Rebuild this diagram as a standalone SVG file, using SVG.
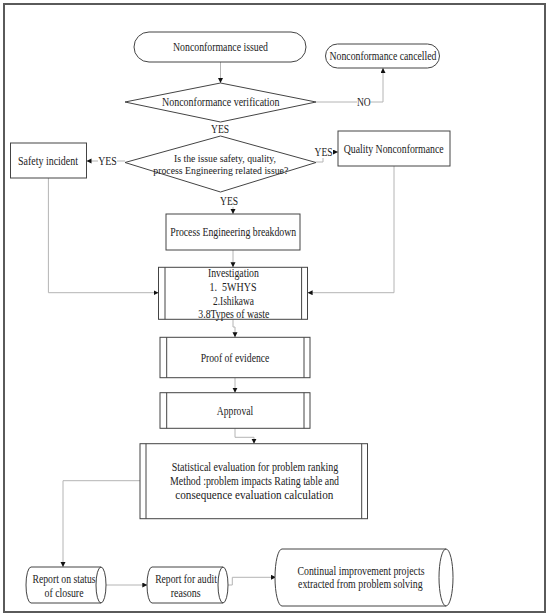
<svg xmlns="http://www.w3.org/2000/svg" width="550" height="616" viewBox="0 0 550 616">
<defs>
<marker id="ah" markerUnits="userSpaceOnUse" markerWidth="6" markerHeight="6" refX="5" refY="2.5" orient="auto">
<path d="M0,0 L5,2.5 L0,5 z" fill="#111"/>
</marker>
<style>
.n{fill:#fff;stroke:#444;stroke-width:1}
.i{fill:none;stroke:#444;stroke-width:1}
.c{fill:none;stroke:#b4b4b4;stroke-width:1}
.a{marker-end:url(#ah)}
text{font-family:"Liberation Serif","Times New Roman",serif;font-size:12px;fill:#222;text-anchor:middle}
.s{font-size:11px}
</style>
</defs>
<rect x="0" y="0" width="550" height="616" fill="#fff"/>
<rect x="4" y="4" width="541" height="608" fill="none" stroke="#5a5a5a" stroke-width="2"/>

<g id="connectors">
<path class="c a" d="M220.5,62 V83"/>
<path class="c" d="M316,102 H357"/>
<path class="c a" d="M370.5,102 H383 V68"/>
<path class="c" d="M125,161 H117"/>
<path class="c a" d="M98,161 H86.5"/>
<path class="c" d="M316,162 H323 V158"/>
<path class="c a" d="M333,152 H338"/>
<path class="c a" d="M233,207 V214"/>
<path class="c a" d="M233,250 V267.3"/>
<path class="c a" d="M48.4,178 V292.7 H158.5"/>
<path class="c a" d="M394,166 V292.7 H307.6"/>
<path class="c a" d="M233,319.3 V327 H235 V337.3"/>
<path class="c a" d="M235,377.7 V392.7"/>
<path class="c a" d="M235,428.3 V437.3 H254 V443.7"/>
<path class="c a" d="M140,480.7 H63 V567"/>
<path class="c a" d="M106,585 H147.3"/>
<path class="c a" d="M228,585 H232.3 V577.3 H276"/>
</g>

<g id="nc-issued">
<rect class="n" x="134" y="32" width="172" height="30" rx="15"/>
<text x="220.5" y="51" textLength="95" lengthAdjust="spacingAndGlyphs">Nonconformance issued</text>
</g>
<g id="nc-cancelled">
<rect class="n" x="325.5" y="44" width="114" height="24" rx="12"/>
<text x="383" y="60" textLength="107" lengthAdjust="spacingAndGlyphs">Nonconformance cancelled</text>
</g>
<g id="nc-verification">
<polygon class="n" points="125,102 220.5,83 316,102 220.5,122"/>
<text x="220.8" y="106" textLength="117.5" lengthAdjust="spacingAndGlyphs">Nonconformance verification</text>
</g>
<g id="label-no"><text x="363.8" y="106" textLength="13.7" lengthAdjust="spacingAndGlyphs">NO</text></g>
<g id="label-yes1"><text x="220" y="133" textLength="18" lengthAdjust="spacingAndGlyphs">YES</text></g>
<g id="issue-type">
<polygon class="n" points="125,162.5 220.5,136 316,162.5 220.5,192"/>
<text class="s" x="225" y="161.5" textLength="102" lengthAdjust="spacingAndGlyphs">Is the issue safety, quality,</text>
<text class="s" x="220.8" y="174" textLength="135" lengthAdjust="spacingAndGlyphs">process Engineering related issue?</text>
</g>
<g id="label-yes-left"><text x="107.5" y="165" textLength="18.6" lengthAdjust="spacingAndGlyphs">YES</text></g>
<g id="label-yes-right"><text x="323.5" y="156" textLength="18" lengthAdjust="spacingAndGlyphs">YES</text></g>
<g id="label-yes-down"><text x="229" y="205" textLength="18" lengthAdjust="spacingAndGlyphs">YES</text></g>
<g id="safety-incident">
<rect class="n" x="10.5" y="143" width="76" height="35"/>
<text x="48" y="165" textLength="60" lengthAdjust="spacingAndGlyphs">Safety incident</text>
</g>
<g id="quality-nc">
<rect class="n" x="338" y="131" width="112" height="35"/>
<text x="393.7" y="153" textLength="100" lengthAdjust="spacingAndGlyphs">Quality Nonconformance</text>
</g>
<g id="process-eng">
<rect class="n" x="166" y="214" width="134" height="36"/>
<text x="233.2" y="236.3" textLength="126" lengthAdjust="spacingAndGlyphs">Process Engineering breakdown</text>
</g>
<g id="investigation">
<rect class="n" x="158.5" y="267.3" width="149" height="52"/>
<path class="i" d="M165,267.3 V319.3 M301.6,267.3 V319.3"/>
<text x="233.4" y="276.7" textLength="51" lengthAdjust="spacingAndGlyphs">Investigation</text>
<text x="233" y="290.7" textLength="47" lengthAdjust="spacingAndGlyphs" style="white-space:pre">1.  5WHYS</text>
<text x="233.5" y="304.7" textLength="41" lengthAdjust="spacingAndGlyphs">2.Ishikawa</text>
<text x="233.8" y="318" textLength="71" lengthAdjust="spacingAndGlyphs">3.8Types of waste</text>
</g>
<g id="proof">
<rect class="n" x="160" y="337.3" width="150" height="40.4"/>
<path class="i" d="M166.7,337.3 V377.7 M304,337.3 V377.7"/>
<text x="235" y="361.7" textLength="68.7" lengthAdjust="spacingAndGlyphs">Proof of evidence</text>
</g>
<g id="approval">
<rect class="n" x="160" y="392.7" width="150" height="35.6"/>
<path class="i" d="M166.7,392.7 V428.3 M304,392.7 V428.3"/>
<text x="235" y="415" textLength="36.3" lengthAdjust="spacingAndGlyphs">Approval</text>
</g>
<g id="statistical">
<rect class="n" x="140" y="443.7" width="227.5" height="75"/>
<path class="i" d="M146,443.7 V518.7 M361.7,443.7 V518.7"/>
<text x="255" y="470.7" textLength="166.7" lengthAdjust="spacingAndGlyphs">Statistical evaluation for problem ranking</text>
<text x="254.5" y="484.7" textLength="169" lengthAdjust="spacingAndGlyphs">Method :problem impacts Rating table and</text>
<text x="254.3" y="499" textLength="158" lengthAdjust="spacingAndGlyphs">consequence evaluation calculation</text>
</g>
<g id="report-status">
<path class="n" d="M31,567 H101 A5,18 0 0 1 101,603 H31 A5,18 0 0 1 31,567 Z"/>
<path class="i" d="M101,567 A5,18 0 0 0 101,603"/>
<text x="64" y="583.3" textLength="63" lengthAdjust="spacingAndGlyphs">Report on status</text>
<text x="64" y="596.5" textLength="39" lengthAdjust="spacingAndGlyphs">of closure</text>
</g>
<g id="report-audit">
<path class="n" d="M152,567 H223 A5,18 0 0 1 223,603 H152 A5,18 0 0 1 152,567 Z"/>
<path class="i" d="M223,567 A5,18 0 0 0 223,603"/>
<text x="186" y="583.3" textLength="61.7" lengthAdjust="spacingAndGlyphs">Report for audit</text>
<text x="185.7" y="596.5" textLength="30" lengthAdjust="spacingAndGlyphs">reasons</text>
</g>
<g id="continual">
<path class="n" d="M282,549 H446 A7,28.5 0 0 1 446,606 H282 A7,28.5 0 0 1 282,549 Z"/>
<path class="i" d="M446,549 A7,28.5 0 0 0 446,606"/>
<text x="361" y="575" textLength="127" lengthAdjust="spacingAndGlyphs">Continual improvement projects</text>
<text x="360.3" y="588.3" textLength="124.6" lengthAdjust="spacingAndGlyphs">extracted from problem solving</text>
</g>
</svg>
